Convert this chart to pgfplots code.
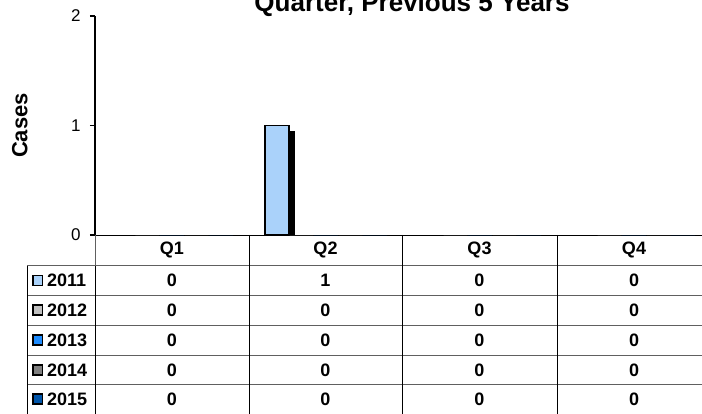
\documentclass[border=0pt]{standalone}
\usepackage{fontspec}
\setmainfont{Liberation Sans}
\usepackage{pgfplots}
\pgfplotsset{compat=1.18}
\definecolor{c2011}{HTML}{AAD2FA}
\definecolor{c2012}{HTML}{C0C0C0}
\definecolor{c2013}{HTML}{1E8CFF}
\definecolor{c2014}{HTML}{808080}
\definecolor{c2015}{HTML}{0055AA}
\definecolor{gridgray}{HTML}{606060}
\begin{document}
\begin{tikzpicture}[x=1pt,y=1pt]
\useasboundingbox (0,0) rectangle (702,413);
\begin{axis}[
  at={(95pt,178pt)}, anchor=south west,
  scale only axis, width=616pt, height=219pt,
  xmin=-0.5, xmax=3.5, ymin=0, ymax=2,
  xtick=\empty, ytick={0,1,2},
  axis x line=bottom, axis y line=left,
  axis line style={-},
  y axis line style={line width=2pt},
  x axis line style={line width=1pt},
  tick align=outside, major tick length=5pt,
  ytick style={line width=1.5pt, black},
  /pgf/number format/assume math mode=true,
  tick label style={font=\fontsize{17}{17}\selectfont},
  yticklabel style={xshift=-6pt},
  ylabel={Cases},
  ylabel style={at={(axis description cs:-0.122,0.5)}, anchor=center, font=\bfseries\fontsize{22}{22}\selectfont},
  ybar=0.5pt, bar width=24pt,
]
\addplot[fill=c2011, draw=black, line width=1.2pt,
  preaction={fill=black, draw=none, transform canvas={shift={(6pt,-5pt)}}},
  y filter/.expression={y==0 ? nan : y}, unbounded coords=discard]
  coordinates {(0,0) (1,1) (2,0) (3,0)};
\addplot[fill=c2012, draw=none] coordinates {(0,0) (1,0) (2,0) (3,0)};
\addplot[fill=c2013, draw=none] coordinates {(0,0) (1,0) (2,0) (3,0)};
\addplot[fill=c2014, draw=none] coordinates {(0,0) (1,0) (2,0) (3,0)};
\addplot[fill=c2015, draw=none] coordinates {(0,0) (1,0) (2,0) (3,0)};
\end{axis}
% title (upper line cut off by page edge, as in the reference)
\node[anchor=base, font=\bfseries\fontsize{26}{26}\selectfont, inner sep=0] at (412,401.3) {Quarter, Previous 5 Years};
% data table
\foreach \y in {147.5,117.5,88,58,28.5}
  \draw[gridgray, line width=1pt] (27,\y) -- (715,\y);
\draw[gridgray, line width=1pt] (95,178) -- (95,147.5);
\draw[black, line width=1pt] (95,147.5) -- (95,-2);
\foreach \x in {249,402,557}
  \draw[black, line width=1pt] (\x,178) -- (\x,-2);
\draw[black, line width=1pt] (27,147.5) -- (27,-2);
\begin{scope}[every node/.style={inner sep=0, font=\bfseries\fontsize{18}{18}\selectfont}]
\node at (172,163) {Q1};
\node at (325.5,163) {Q2};
\node at (479.5,163) {Q3};
\node at (634,163) {Q4};
\foreach \yr/\col/\yy/\a/\b/\c/\d in {2011/c2011/132.5/0/1/0/0, 2012/c2012/103/0/0/0/0, 2013/c2013/73/0/0/0/0, 2014/c2014/43/0/0/0/0, 2015/c2015/14/0/0/0/0}{
  \draw[line width=1.5pt, fill=\col] (33,\yy-5) rectangle (42.5,\yy+5);
  \node[anchor=west] at (47,\yy) {\yr};
  \node at (172,\yy) {\a};
  \node at (325.5,\yy) {\b};
  \node at (479.5,\yy) {\c};
  \node at (634,\yy) {\d};
}
\end{scope}
\end{tikzpicture}
\end{document}
